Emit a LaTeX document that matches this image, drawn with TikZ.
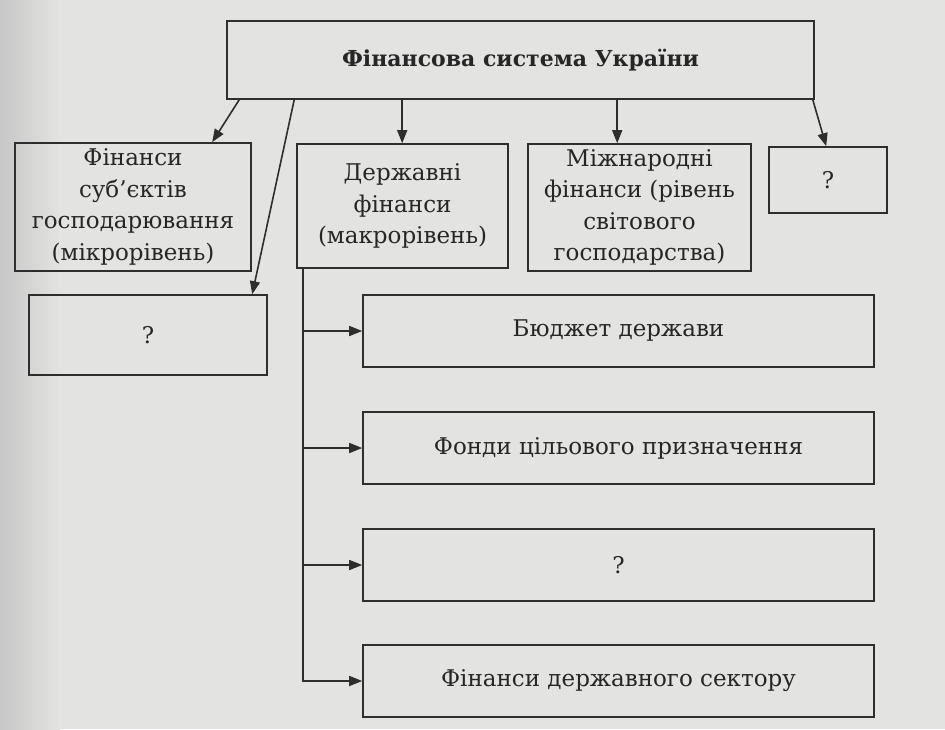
\documentclass[tikz,border=0pt]{standalone}
\usepackage{fontspec}
\setmainfont{DejaVu Serif}
\usetikzlibrary{arrows.meta}
\definecolor{bg}{HTML}{E3E3E1}
\definecolor{ink}{HTML}{2E2E2E}
\definecolor{txt}{HTML}{262626}
\begin{document}
\begin{tikzpicture}[x=1pt,y=-1pt,
  box/.style={draw=ink, line width=1.6pt, rectangle, inner sep=0pt, align=center,
    text=txt, font=\fontsize{23}{31.5}\selectfont},
  arr/.style={draw=ink, line width=1.6pt, -{Triangle[length=13pt,width=10pt]}}]
\fill[bg] (0,0) rectangle (945,729);
\shade[left color=black!22, right color=bg] (0,0) rectangle (60,729);
\useasboundingbox (0,0) rectangle (945,729);

\node[box, minimum width=587pt, minimum height=78pt, font=\fontsize{22}{31}\selectfont\bfseries] (top) at (520.5,60) {Фінансова система України};
\node[box, minimum width=236pt, minimum height=128pt] (subj) at (133,207) {Фінанси\\суб’єктів\\господарювання\\(мікрорівень)};
\node[box, minimum width=238pt, minimum height=80pt] (qleft) at (148,335) {?};
\node[box, minimum width=211pt, minimum height=124pt] (derzh) at (402.5,206) {Державні\\фінанси\\(макрорівень)};
\node[box, minimum width=223pt, minimum height=127pt] (mizh) at (639.5,207.5) {Міжнародні\\фінанси (рівень\\світового\\господарства)};
\node[box, minimum width=118pt, minimum height=66pt] (qright) at (828,180) {?};

\node[box, minimum width=511pt, minimum height=72pt] (budget) at (618.5,331) {Бюджет держави};
\node[box, minimum width=511pt, minimum height=72pt] (fondy) at (618.5,448) {Фонди цільового призначення};
\node[box, minimum width=511pt, minimum height=72pt] (qbot) at (618.5,565) {?};
\node[box, minimum width=511pt, minimum height=72pt] (fds) at (618.5,681) {Фінанси державного сектору};

\draw[arr] ([xshift=13pt]top.south west) -- ([xshift=198pt]subj.north west);
\draw[arr] ([xshift=68pt]top.south west) -- ([xshift=224pt]qleft.north west);
\draw[arr] ([xshift=176pt]top.south west) -- ([xshift=106pt]derzh.north west);
\draw[arr] ([xshift=391pt]top.south west) -- ([xshift=90pt]mizh.north west);
\draw[arr] ([xshift=-2pt]top.south east) -- ([xshift=58pt]qright.north west);

\coordinate (t0) at ([xshift=7pt]derzh.south west);
\draw[arr] (t0) |- (fds.west);
\draw[arr] (t0 |- budget.west) -- (budget.west);
\draw[arr] (t0 |- fondy.west) -- (fondy.west);
\draw[arr] (t0 |- qbot.west) -- (qbot.west);
\end{tikzpicture}
\end{document}
